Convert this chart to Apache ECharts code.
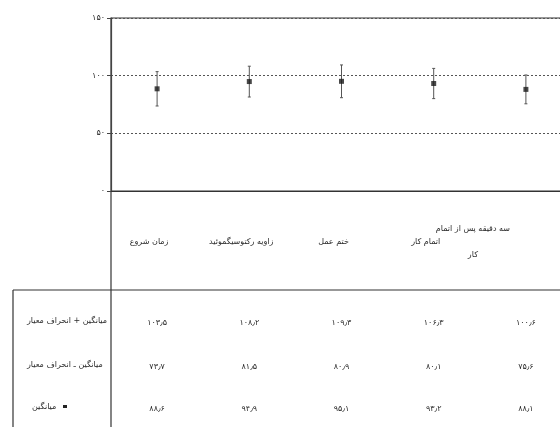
<!DOCTYPE html>
<html>
<head>
<meta charset="utf-8">
<script src="https://cdn.jsdelivr.net/npm/echarts@6/dist/echarts.min.js"></script>
<style>
  html, body { margin: 0; padding: 0; background: #fff; }
  #chart { width: 560px; height: 427px; }
</style>
</head>
<body>
<div id="chart"></div>
<script>
// stages of the procedure (column headers)
const categories = ['زمان شروع', 'زاویه رکتوسیگموئید', 'ختم عمل', 'اتمام کار', 'سه دقیقه پس از اتمام کار']
// table rows
const meanPlusSd = [103.5, 108.2, 109.3, 106.3, 100.6]
const meanMinusSd = [73.7, 81.5, 80.9, 80.1, 75.6]
const meanValues = [88.6, 94.9, 95.1, 93.2, 88.1]
const rowLabels = ['میانگین + انحراف معیار', 'میانگین ـ انحراف معیار', 'میانگین']

const FONT = 'DejaVu Sans'
const INK = '#2a2a2a'

function toFa(v) {
  return String(v).replace(/\d/g, (d) => '۰۱۲۳۴۵۶۷۸۹'[d]).replace('.', '٫')
}

const chart = echarts.init(document.getElementById('chart'))

const gridBottom = 191
const rowY = [323, 367, 409]

function tableAxis(values, y) {
  return {
    type: 'category',
    gridIndex: 0,
    position: 'bottom',
    offset: y - gridBottom,
    data: values.map((v) => toFa(v.toFixed(1))),
    axisLine: { show: false },
    axisTick: { show: false },
    axisLabel: { margin: 0, verticalAlign: 'middle', fontFamily: FONT, fontSize: 8, color: INK }
  }
}

// long header: last word goes on its own line, block sits a bit to the left
function headerLabel(v, i) {
  if (v.length > 20) {
    const parts = v.replace(/ (\S+)$/, '\n$1').split('\n')
    return parts.map((p) => '{far|' + p + '}').join('\n')
  }
  return v
}

const option = {
  animation: false,
  backgroundColor: '#fff',
  grid: {
    left: 111, right: -12, top: 18, bottom: 427 - gridBottom,
    outerBoundsMode: 'none', containLabel: false,
    show: true, borderColor: '#333', borderWidth: 1.2
  },
  xAxis: [
    {
      type: 'category',
      data: categories,
      axisLine: { lineStyle: { color: '#333', width: 1.2 } },
      axisTick: { show: false },
      axisLabel: {
        margin: 51,
        verticalAlign: 'middle',
        interval: 0,
        lineHeight: 26,
        fontFamily: FONT,
        fontSize: 8,
        color: INK,
        padding: [0, 16, 0, 0],
        formatter: headerLabel,
        rich: { far: { fontFamily: FONT, fontSize: 8, color: INK, lineHeight: 26, padding: [0, 90, 0, 0] } }
      }
    },
    tableAxis(meanPlusSd, rowY[0]),
    tableAxis(meanMinusSd, rowY[1]),
    tableAxis(meanValues, rowY[2])
  ],
  yAxis: {
    type: 'value',
    min: 0,
    max: 150,
    interval: 50,
    axisLine: { show: true, lineStyle: { color: '#444', width: 1.2 } },
    axisTick: { show: true, length: 4, lineStyle: { color: '#444' } },
    axisLabel: { fontFamily: FONT, fontSize: 8, color: INK, margin: 6, formatter: (v) => toFa(v) },
    splitLine: { show: true, lineStyle: { color: '#555', type: [2, 2], width: 1 } }
  },
  series: [
    {
      name: 'error',
      type: 'custom',
      xAxisIndex: 0,
      data: categories.map((c, i) => [i, meanMinusSd[i], meanPlusSd[i]]),
      renderItem: (params, api) => {
        const lo = api.coord([api.value(0), api.value(1)])
        const hi = api.coord([api.value(0), api.value(2)])
        const style = { stroke: '#555', lineWidth: 1 }
        return {
          type: 'group',
          children: [
            { type: 'line', shape: { x1: lo[0], y1: lo[1], x2: hi[0], y2: hi[1] }, style },
            { type: 'line', shape: { x1: hi[0] - 1.5, y1: hi[1], x2: hi[0] + 1.5, y2: hi[1] }, style },
            { type: 'line', shape: { x1: lo[0] - 1.5, y1: lo[1], x2: lo[0] + 1.5, y2: lo[1] }, style }
          ]
        }
      },
      z: 3
    },
    {
      name: 'mean',
      type: 'scatter',
      xAxisIndex: 0,
      symbol: 'rect',
      symbolSize: 5,
      itemStyle: { color: '#1a1a1a' },
      data: meanValues,
      z: 4
    }
  ],
  graphic: [
    // table frame
    { type: 'line', shape: { x1: 111, y1: gridBottom, x2: 111, y2: 427 }, style: { stroke: '#333', lineWidth: 1.2 } },
    { type: 'line', shape: { x1: 13, y1: 290, x2: 560, y2: 290 }, style: { stroke: '#333', lineWidth: 1.2 } },
    { type: 'line', shape: { x1: 13, y1: 290, x2: 13, y2: 427 }, style: { stroke: '#333', lineWidth: 1.2 } },
    ...rowLabels.map((t, i) => ({
      type: 'text',
      left: i === 2 ? 32 : 27,
      top: rowY[i] - 6,
      style: { text: t, font: '8px "' + FONT + '"', fill: INK }
    })),
    { type: 'rect', shape: { x: 63, y: rowY[2] - 4, width: 4, height: 3 }, style: { fill: '#222' } }
  ]
}

chart.setOption(option)
</script>
</body>
</html>
